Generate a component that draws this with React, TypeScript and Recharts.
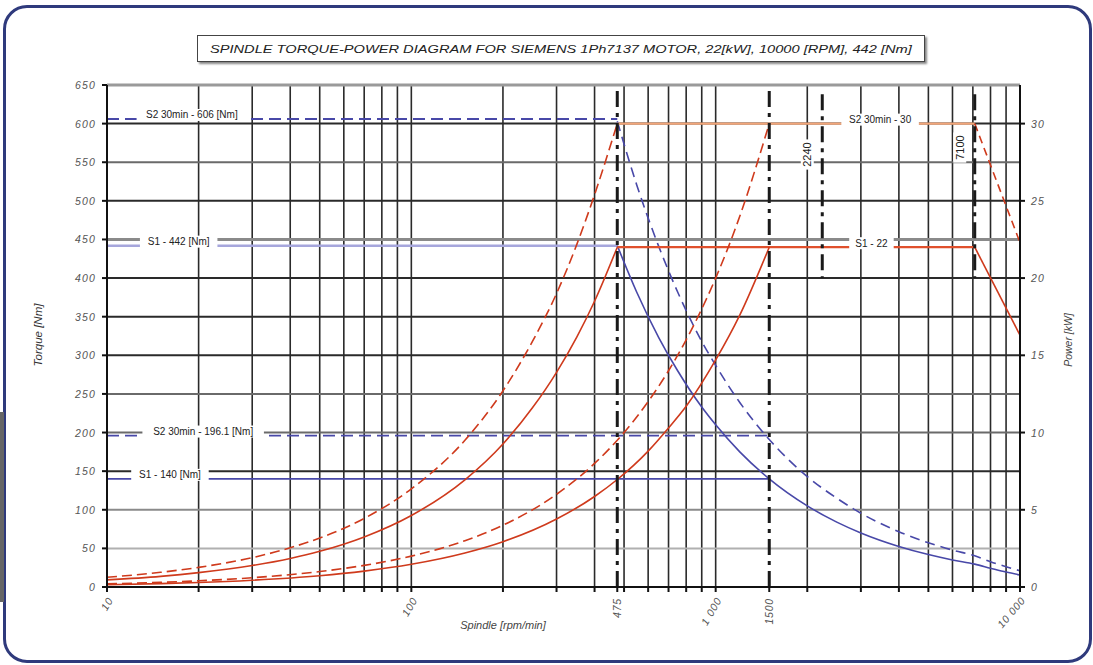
import React from "react";
import { LineChart, Line, XAxis, YAxis, ReferenceLine, ReferenceDot } from "recharts";

// ---- data ----
const rpmRise1 = [10, 15, 20, 30, 40, 50, 70, 100, 150, 200, 250, 300, 350, 400, 475];
const powerS2Rise1 = [0.63, 0.95, 1.27, 1.9, 2.54, 3.17, 4.44, 6.35, 9.5, 12.7, 15.9, 19.0, 22.2, 25.4, 30.0];
const powerS1Rise1 = [0.46, 0.69, 0.93, 1.39, 1.85, 2.31, 3.24, 4.63, 6.94, 9.26, 11.6, 13.9, 16.2, 18.5, 22.0];

const rpmRise2 = [10, 15, 20, 30, 50, 70, 100, 150, 200, 300, 400, 475, 600, 700, 800, 1000, 1200, 1500];
const powerS2Rise2 = [0.2, 0.3, 0.4, 0.6, 1.0, 1.4, 2.0, 3.0, 4.0, 6.0, 8.0, 9.5, 12.0, 14.0, 16.0, 20.0, 24.0, 30.0];
const powerS1Rise2 = [0.15, 0.22, 0.29, 0.44, 0.73, 1.03, 1.47, 2.2, 2.93, 4.4, 5.86, 6.96, 8.8, 10.3, 11.7, 14.7, 17.6, 22.0];

const rpmFlat = [475, 7100];
const powerS2Flat = [30, 30];
const powerS1Flat = [22, 22];

const rpmDrop = [7100, 10000];
const powerS2Drop = [30, 22.3];
const powerS1Drop = [22, 16.3];

const rpmTorqueFlat1 = [10, 475];
const torqueS2Flat1 = [606, 606];
const torqueS1Flat1 = [442, 442];

const rpmTorqueFlat2 = [10, 1500];
const torqueS2Flat2 = [196.1, 196.1];
const torqueS1Flat2 = [140, 140];

const rpmFall = [475, 550, 650, 750, 900, 1000, 1200, 1500, 2000, 2500, 3000, 4000, 5000, 6000, 7100, 8000, 9000, 10000];
const torqueS2Fall = [603, 521, 441, 382, 318, 287, 239, 191, 143, 115, 95.5, 71.6, 57.3, 47.8, 40.4, 32.8, 26.3, 21.0];
const torqueS1Fall = [442, 382, 323, 280, 233, 210, 175, 140, 105, 84, 70, 52.5, 42, 35, 29.6, 24.4, 19.4, 15.6];

const torqueTicks = [0, 50, 100, 150, 200, 250, 300, 350, 400, 450, 500, 550, 600, 650];
const torqueGridColors = ["#000", "#b0b0b0", "#8a8a8a", "#2a2a2a", "#6a6a6a", "#6a6a6a", "#2a2a2a", "#2a2a2a", "#2a2a2a", "#8a8a8a", "#2a2a2a", "#6a6a6a", "#2a2a2a", "#9a9a9a"];
const powerTicks = [0, 5, 10, 15, 20, 25, 30];
const rpmGrid = [20, 30, 40, 50, 60, 70, 80, 90, 100, 200, 300, 400, 500, 600, 700, 800, 900, 1000, 2000, 3000, 4000, 5000, 6000, 7000, 8000, 9000];
const rpmTicks = [10, 20, 30, 40, 50, 60, 70, 80, 90, 100, 200, 300, 400, 475, 500, 600, 700, 800, 900, 1000, 1500, 2000, 3000, 4000, 5000, 6000, 7000, 8000, 9000, 10000];
const rpmLabelValues = [10, 100, 475, 1000, 1500, 10000];
const rpmLabels = ["10", "100", "475", "1 000", "1500", "10 000"];

const markerRpm = [475, 1500];
const shortMarkerRpm = [2240, 7100];
const shortMarkerLabels = ["2240", "7100"];

const zip = (xs: number[], ys: number[]) => xs.map((n, i) => ({ n, v: ys[i] }));

const FONT = "'Liberation Sans', Arial, sans-serif";

const LabelBox = (props: any) => {
  const { cx, cy, text, dx = 0, dy = -4, rotate = false, size = 10 } = props;
  if (cx == null || cy == null) return null;
  const x = cx + dx;
  const y = cy + dy;
  const w = text.length * size * 0.55 + 6;
  const h = size + 2;
  return (
    <g transform={rotate ? `rotate(-90 ${x} ${y})` : undefined}>
      <rect x={x - w / 2} y={y - h / 2} width={w} height={h} fill="#fff" />
      <text x={x} y={y} textAnchor="middle" dominantBaseline="central" fontSize={size} fontFamily={FONT} fill="#222">
        {text}
      </text>
    </g>
  );
};

const XTick = (props: any) => {
  const { x, y, payload } = props;
  const idx = rpmLabelValues.indexOf(payload.value);
  if (idx < 0) return null;
  const vertical = payload.value === 475 || payload.value === 1500;
  const angle = vertical ? -90 : payload.value === 10000 ? -50 : -60;
  const ax = x + (vertical ? 0 : 3);
  const ay = y + 4;
  return (
    <text
      x={ax}
      y={ay}
      transform={`rotate(${angle} ${ax} ${ay})`}
      textAnchor="end"
      dominantBaseline="central"
      fontSize={10.5}
      letterSpacing={0.8}
      fontStyle="italic"
      fontFamily={FONT}
      fill="#555"
    >
      {rpmLabels[idx]}
    </text>
  );
};

const YTick = (props: any) => {
  const { x, y, payload, side } = props;
  const left = side === "left";
  return (
    <text
      x={left ? x - 4 : x + 4}
      y={y}
      textAnchor={left ? "end" : "start"}
      dominantBaseline="central"
      fontSize={10.5}
      letterSpacing={1.2}
      fontStyle="italic"
      fontFamily={FONT}
      fill="#555"
    >
      {payload.value}
    </text>
  );
};

export default function App() {
  const blue = "#4848a8";
  const red = "#cf3a1c";
  return (
    <div style={{ position: "absolute", left: 0, top: 0, width: 1093, height: 665, background: "#fff", overflow: "hidden" }}>
      <div
        style={{
          position: "absolute",
          left: 3,
          top: 5,
          width: 1083,
          height: 652,
          border: "3px solid #2f3a7c",
          borderRadius: 24,
        }}
      />
      <div style={{ position: "absolute", left: 0, top: 412, width: 4, height: 190, background: "#666" }} />
      <div
        style={{
          position: "absolute",
          left: 197,
          top: 35,
          width: 726,
          height: 25,
          border: "1px solid #444",
          boxShadow: "2px 2px 2px #888",
          background: "#fff",
          display: "flex",
          alignItems: "center",
          justifyContent: "center",
          overflow: "hidden",
        }}
      >
        <span
          style={{
            display: "inline-block",
            fontFamily: FONT,
            fontStyle: "italic",
            fontSize: 11,
            color: "#222",
            whiteSpace: "nowrap",
            transform: "scaleX(1.33)",
          }}
        >
          SPINDLE TORQUE-POWER DIAGRAM FOR SIEMENS 1Ph7137 MOTOR, 22[kW], 10000 [RPM], 442 [Nm]
        </span>
      </div>
      <div
        style={{
          position: "absolute",
          left: 38,
          top: 335,
          transform: "translate(-50%, -50%) rotate(-90deg)",
          fontFamily: FONT,
          fontStyle: "italic",
          fontSize: 11.5,
          color: "#333",
          whiteSpace: "nowrap",
        }}
      >
        Torque [Nm]
      </div>
      <div
        style={{
          position: "absolute",
          left: 1068,
          top: 340,
          transform: "translate(-50%, -50%) rotate(-90deg)",
          fontFamily: FONT,
          fontStyle: "italic",
          fontSize: 10.5,
          color: "#444",
          whiteSpace: "nowrap",
        }}
      >
        Power [kW]
      </div>
      <div
        style={{
          position: "absolute",
          left: 503,
          top: 625,
          transform: "translate(-50%, -50%)",
          fontFamily: FONT,
          fontStyle: "italic",
          fontSize: 11,
          color: "#444",
          whiteSpace: "nowrap",
        }}
      >
        Spindle [rpm/min]
      </div>
      <div style={{ position: "absolute", left: 0, top: 0 }}>
        <LineChart width={1093} height={665} margin={{ top: 85, right: 33, bottom: 38, left: 67 }}>
          <XAxis
            xAxisId="x"
            dataKey="n"
            type="number"
            scale="log"
            domain={[10, 10000]}
            allowDataOverflow
            ticks={rpmTicks}
            tick={<XTick />}
            interval={0}
            height={40}
            stroke="#111"
            strokeWidth={2}
            tickSize={5}
          />
          <YAxis
            yAxisId="left"
            orientation="left"
            type="number"
            domain={[0, 650]}
            ticks={torqueTicks}
            interval={0}
            width={40}
            stroke="#111"
            strokeWidth={2}
            tickSize={5}
            tick={<YTick side="left" />}
          />
          <YAxis
            yAxisId="right"
            orientation="right"
            type="number"
            domain={[0, 32.5]}
            ticks={powerTicks}
            interval={0}
            width={40}
            stroke="#111"
            strokeWidth={2}
            tickSize={5}
            tick={<YTick side="right" />}
          />

          {rpmGrid.map((r) => (
            <ReferenceLine key={"vg" + r} xAxisId="x" yAxisId="left" x={r} stroke="#2a2a2a" strokeWidth={1.6} />
          ))}
          {torqueTicks.slice(1).map((t, i) => (
            <ReferenceLine
              key={"hg" + t}
              xAxisId="x"
              yAxisId="left"
              y={t}
              stroke={torqueGridColors[i + 1]}
              strokeWidth={t === 650 || t === 450 ? 3 : 2}
            />
          ))}

          {/* torque lines */}
          <Line xAxisId="x" yAxisId="left" data={zip(rpmTorqueFlat1, torqueS1Flat1)} dataKey="v" stroke="#a6a6dc" strokeWidth={2.5} dot={false} isAnimationActive={false} />
          <Line xAxisId="x" yAxisId="left" data={zip(rpmTorqueFlat1, torqueS2Flat1)} dataKey="v" stroke={blue} strokeWidth={1.8} strokeDasharray="12 6" dot={false} isAnimationActive={false} />
          <Line xAxisId="x" yAxisId="left" data={zip(rpmTorqueFlat2, torqueS2Flat2)} dataKey="v" stroke={blue} strokeWidth={1.8} strokeDasharray="12 6" dot={false} isAnimationActive={false} />
          <Line xAxisId="x" yAxisId="left" data={zip(rpmTorqueFlat2, torqueS1Flat2)} dataKey="v" stroke={blue} strokeWidth={1.6} dot={false} isAnimationActive={false} />
          <Line xAxisId="x" yAxisId="left" type="monotone" data={zip(rpmFall, torqueS2Fall)} dataKey="v" stroke={blue} strokeWidth={1.6} strokeDasharray="10 6" dot={false} isAnimationActive={false} />
          <Line xAxisId="x" yAxisId="left" type="monotone" data={zip(rpmFall, torqueS1Fall)} dataKey="v" stroke={blue} strokeWidth={1.6} dot={false} isAnimationActive={false} />

          {/* power lines */}
          <Line xAxisId="x" yAxisId="right" data={zip(rpmFlat, powerS2Flat)} dataKey="v" stroke="#f2a67a" strokeWidth={2.2} dot={false} isAnimationActive={false} />
          <Line xAxisId="x" yAxisId="right" data={zip(rpmFlat, powerS1Flat)} dataKey="v" stroke="#e0502c" strokeWidth={2.2} dot={false} isAnimationActive={false} />
          <Line xAxisId="x" yAxisId="right" type="monotone" data={zip(rpmRise1, powerS2Rise1)} dataKey="v" stroke={red} strokeWidth={1.6} strokeDasharray="10 5" dot={false} isAnimationActive={false} />
          <Line xAxisId="x" yAxisId="right" type="monotone" data={zip(rpmRise1, powerS1Rise1)} dataKey="v" stroke={red} strokeWidth={1.6} dot={false} isAnimationActive={false} />
          <Line xAxisId="x" yAxisId="right" type="monotone" data={zip(rpmRise2, powerS2Rise2)} dataKey="v" stroke={red} strokeWidth={1.6} strokeDasharray="10 5" dot={false} isAnimationActive={false} />
          <Line xAxisId="x" yAxisId="right" type="monotone" data={zip(rpmRise2, powerS1Rise2)} dataKey="v" stroke={red} strokeWidth={1.6} dot={false} isAnimationActive={false} />
          <Line xAxisId="x" yAxisId="right" data={zip(rpmDrop, powerS2Drop)} dataKey="v" stroke={red} strokeWidth={1.6} strokeDasharray="8 5" dot={false} isAnimationActive={false} />
          <Line xAxisId="x" yAxisId="right" data={zip(rpmDrop, powerS1Drop)} dataKey="v" stroke={red} strokeWidth={1.6} dot={false} isAnimationActive={false} />

          {/* vertical markers */}
          {markerRpm.map((r) => (
            <ReferenceLine key={"m" + r} xAxisId="x" yAxisId="left" x={r} stroke="#1a1a1a" strokeWidth={3} strokeDasharray="16 6 4 6" />
          ))}
          {shortMarkerRpm.map((r) => (
            <ReferenceLine
              key={"s" + r}
              xAxisId="x"
              yAxisId="left"
              segment={[{ x: r, y: 638 }, { x: r, y: 400 }]}
              stroke="#1a1a1a"
              strokeWidth={3}
              strokeDasharray="16 6 4 6"
            />
          ))}

          {/* labels */}
          <ReferenceDot xAxisId="x" yAxisId="left" x={19} y={606} r={0} shape={(p: any) => <LabelBox {...p} text="S2 30min - 606 [Nm]" />} />
          <ReferenceDot xAxisId="x" yAxisId="left" x={17.2} y={442} r={0} shape={(p: any) => <LabelBox {...p} text="S1 - 442 [Nm]" />} />
          <ReferenceDot xAxisId="x" yAxisId="left" x={20.7} y={196.1} r={0} shape={(p: any) => <LabelBox {...p} text="S2 30min - 196.1 [Nm]" />} />
          <ReferenceDot xAxisId="x" yAxisId="left" x={16.1} y={140} r={0} shape={(p: any) => <LabelBox {...p} text="S1 - 140 [Nm]" />} />
          <ReferenceDot xAxisId="x" yAxisId="right" x={3470} y={30} r={0} shape={(p: any) => <LabelBox {...p} text="S2 30min - 30" />} />
          <ReferenceDot xAxisId="x" yAxisId="right" x={3250} y={22} r={0} shape={(p: any) => <LabelBox {...p} text="S1 - 22" />} />
          {shortMarkerRpm.map((r, i) => (
            <ReferenceDot
              key={"sl" + r}
              xAxisId="x"
              yAxisId="left"
              x={r}
              y={i === 0 ? 560 : 569}
              r={0}
              shape={(p: any) => <LabelBox {...p} text={shortMarkerLabels[i]} dx={-15} dy={0} rotate size={11} />}
            />
          ))}
        </LineChart>
      </div>
    </div>
  );
}
